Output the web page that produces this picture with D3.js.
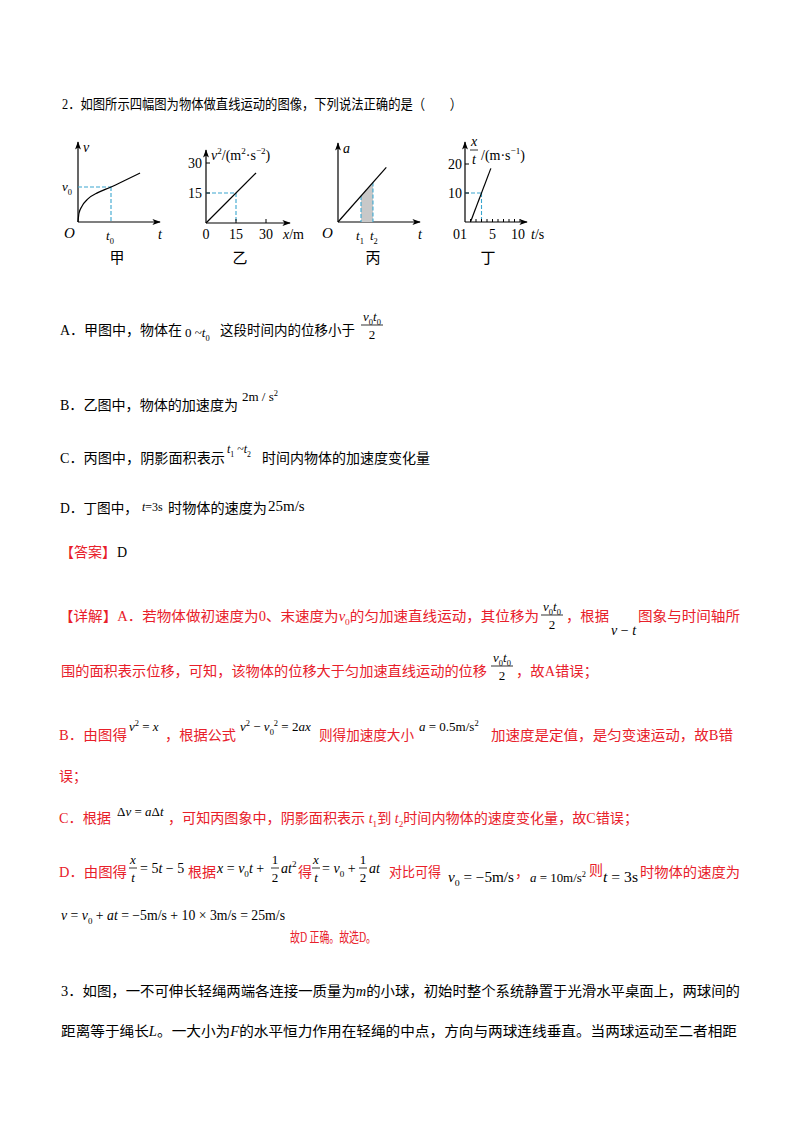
<!DOCTYPE html>
<html><head><meta charset="utf-8">
<script src="https://cdn.jsdelivr.net/npm/d3@7"></script>
<style>body{margin:0;background:#fff}svg{display:block}</style>
</head><body><svg id="s" width="800" height="1132"></svg>
<script>
// ---- data ----
const jiaCurve=[[0,0],[0.03,0.25],[0.12,0.45],[0.3,0.66],[0.6,0.84],[1,1],[1.4,1.18],[1.88,1.4]];
const jiaMark={t:1,v:1};
const yiLine=[[0,0],[25,25]];
const yiXTicks=[0,15,30];const yiYTicks=[15,30];const yiMark={x:15,y:15};
const bingLine=[[0,0],[2.1,2.1]];const bingShade=[1,1.52];
const dingLine=[[1,0],[4.7,18.5]];const dingXTicks=[1,2,3,4,5,6,7,8,9,10];
const dingYTicks=[10,20];const dingMark={t:3,v:10};
const captions=["甲","乙","丙","丁"];

const svg=d3.select("#s");
const FF="'Liberation Serif','Noto Sans CJK SC',serif";
const RED="#e8202a",BLUE="#3aa6cf";

svg.append("defs").html('<marker id="ar" viewBox="0 0 10 10" refX="9" refY="5" markerWidth="7" markerHeight="7" orient="auto-start-reverse"><path d="M0,1.5L10,5L0,8.5L2.5,5z" fill="#000"/></marker>');

function rich(x,y,s,o={}){
  const size=o.size||14;
  const t=svg.append("text").attr("x",x).attr("y",y).attr("font-family",FF)
    .attr("font-size",size).attr("fill",o.fill||"#000");
  if(o.len) t.attr("textLength",o.len).attr("lengthAdjust","spacingAndGlyphs");
  if(o.anchor) t.attr("text-anchor",o.anchor);
  let it=false,i=0,buf="";
  const flush=()=>{if(buf){t.append("tspan").attr("font-size",size).attr("font-style",it?"italic":"normal").text(buf);buf="";}};
  while(i<s.length){
    const c=s[i];
    if(c==="*"){flush();it=!it;i++;continue;}
    if(c==="_"||c==="^"){
      flush();i++;let g;
      if(s[i]==="{"){const j=s.indexOf("}",i);g=s.slice(i+1,j);i=j+1;}else{g=s[i];i++;}
      const d=c==="_"?size*0.3:-size*0.4;
      t.append("tspan").attr("dy",d).attr("font-size",size*0.65).attr("font-style","normal").text(g);
      t.append("tspan").attr("dy",-d).attr("font-size",size).text("\u200b");
      continue;
    }
    buf+=c;i++;
  }
  flush();return t;
}
function frac(x,y,num,den,o={}){ // x centre, y = bar y
  const w=o.w||22;
  rich(x,y-4,num,{anchor:"middle",fill:o.fill,size:o.size||13});
  rich(x,y+14,den,{anchor:"middle",fill:o.fill,size:o.size||13});
  svg.append("line").attr("x1",x-w/2).attr("x2",x+w/2).attr("y1",y).attr("y2",y)
    .attr("stroke",o.fill||"#000").attr("stroke-width",0.8);
}

// ---- charts ----
function axes(ox,oy,xend,ytop){
  svg.append("line").attr("x1",ox).attr("y1",oy).attr("x2",xend).attr("y2",oy).attr("stroke","#000").attr("stroke-width",1.2).attr("marker-end","url(#ar)");
  svg.append("line").attr("x1",ox).attr("y1",oy).attr("x2",ox).attr("y2",ytop).attr("stroke","#000").attr("stroke-width",1.2).attr("marker-end","url(#ar)");
}
function dash(x1,y1,x2,y2){svg.append("line").attr("x1",x1).attr("y1",y1).attr("x2",x2).attr("y2",y2).attr("stroke",BLUE).attr("stroke-width",1.1).attr("stroke-dasharray","4,2");}
const L=d3.line();
// 甲
{const x=d3.scaleLinear([0,1],[78,111]),y=d3.scaleLinear([0,1],[222,187]);
 axes(78,222,160,142);
 dash(x(0),y(jiaMark.v),x(jiaMark.t),y(jiaMark.v));dash(x(jiaMark.t),y(jiaMark.v),x(jiaMark.t),y(0));
 svg.append("path").attr("d",d3.line().x(d=>x(d[0])).y(d=>y(d[1])).curve(d3.curveMonotoneX)(jiaCurve)).attr("fill","none").attr("stroke","#000").attr("stroke-width",1.2);
 rich(83,152,"*v*",{size:14});rich(62,191,"*v*_0",{size:13});rich(64,238,"*O*",{size:15});
 rich(x(1)-5,240,"*t*_0",{size:13});rich(158,239,"*t*",{size:14});}
// 乙
{const x=d3.scaleLinear([0,15],[206,236]),y=d3.scaleLinear([0,15],[223,193]);
 axes(206,223,290,150);
 dash(x(0),y(yiMark.y),x(yiMark.x),y(yiMark.y));dash(x(yiMark.x),y(yiMark.y),x(yiMark.x),y(0));
 svg.append("path").attr("d",L(yiLine.map(d=>[x(d[0]),y(d[1])]))).attr("stroke","#000").attr("stroke-width",1.2);
 yiXTicks.forEach(v=>{if(v)svg.append("line").attr("x1",x(v)).attr("x2",x(v)).attr("y1",y(0)).attr("y2",y(0)-4).attr("stroke","#000");
   rich(x(v),239,String(v),{anchor:"middle",size:14});});
 yiYTicks.forEach(v=>{svg.append("line").attr("x1",x(0)).attr("x2",x(0)+4).attr("y1",y(v)).attr("y2",y(v)).attr("stroke","#000");
   rich(x(0)-4,y(v)+5,String(v),{anchor:"end",size:14});});
 rich(211,160,"*v*^2/(m^2·s^{−2})",{size:14});rich(283,239,"*x*/m",{size:14});}
// 丙
{const x=d3.scaleLinear([0,1],[338,361]),y=d3.scaleLinear([0,1],[222,196]);
 axes(338,222,420,143);
 const [a,b]=bingShade;
 svg.append("path").attr("d",L([[x(a),y(0)],[x(a),y(a)],[x(b),y(b)],[x(b),y(0)]])+"Z").attr("fill","#c8c8c8");
 dash(x(a),y(a),x(a),y(0));dash(x(b),y(b),x(b),y(0));
 svg.append("path").attr("d",L(bingLine.map(d=>[x(d[0]),y(d[1])]))).attr("stroke","#000").attr("stroke-width",1.2);
 rich(343,153,"*a*",{size:14});rich(322,238,"*O*",{size:15});
 rich(x(a)-5,240,"*t*_1",{size:13});rich(x(b)-3,240,"*t*_2",{size:13});rich(418,239,"*t*",{size:14});}
// 丁
{const x=d3.scaleLinear([0,10],[465,520]),y=d3.scaleLinear([0,10],[222,193]);
 axes(465,222,527,142);
 dash(x(0),y(dingMark.v),x(dingMark.t),y(dingMark.v));dash(x(dingMark.t),y(dingMark.v),x(dingMark.t),y(0));
 svg.append("path").attr("d",L(dingLine.map(d=>[x(d[0]),y(d[1])]))).attr("stroke","#000").attr("stroke-width",1.2);
 dingXTicks.forEach(v=>svg.append("line").attr("x1",x(v)).attr("x2",x(v)).attr("y1",y(0)).attr("y2",y(0)-3).attr("stroke","#000"));
 dingYTicks.forEach(v=>{svg.append("line").attr("x1",x(0)).attr("x2",x(0)+4).attr("y1",y(v)).attr("y2",y(v)).attr("stroke","#000");
   rich(x(0)-3,y(v)+5,String(v),{anchor:"end",size:14});});
 rich(453,239,"01",{size:14});rich(x(5),239,"5",{anchor:"middle",size:14});rich(x(10)-2,239,"10",{anchor:"middle",size:14});
 rich(531,239,"*t*/s",{size:14});
 frac(474,150,"*x*","*t*",{w:8,size:14});rich(481,160,"/(m·s^{−1})",{size:14});}
[117,240,373,488].forEach((cx,i)=>rich(cx,263,captions[i],{anchor:"middle",size:15}));

// ---- text ----
rich(62,109,"2．如图所示四幅图为物体做直线运动的图像，下列说法正确的是（　　）",{len:400});
rich(60,335,"A．甲图中，物体在",{len:122});rich(185,337,"0 ~*t*_0",{size:13});
rich(220,335,"这段时间内的位移小于",{len:135});frac(372,325,"*v*_0*t*_0","2",{w:22});
rich(60,410,"B．乙图中，物体的加速度为",{len:178});rich(242,401,"2m / s^2",{size:13});
rich(60,463,"C．丙图中，阴影面积表示",{len:165});rich(227,453,"*t*_1 ~*t*_2",{size:12});
rich(262,463,"时间内物体的加速度变化量",{len:168});
rich(60,513,"D．丁图中，",{len:78});rich(142,511,"*t*=3s",{size:12});
rich(168,513,"时物体的速度为",{len:99});rich(268,511,"25m/s",{size:15});
rich(60,557,"【答案】",{fill:RED,len:56});rich(117,557,"D",{});

rich(59,621,"【详解】A．若物体做初速度为0、末速度为*v*_0的匀加速直线运动，其位移为",{fill:RED,len:480});
frac(552,615,"*v*_0*t*_0","2",{w:22});rich(566,621,"，根据",{fill:RED,len:43});
rich(611,635,"*v* − *t*",{size:14});rich(638,621,"图象与时间轴所",{fill:RED,len:102});
rich(61,676,"围的面积表示位移，可知，该物体的位移大于匀加速直线运动的位移",{fill:RED,len:426});
frac(502,666,"*v*_0*t*_0","2",{w:22});rich(516,676,"，故A错误；",{fill:RED,len:82});
rich(59,740,"B．由图得",{fill:RED,len:68});rich(129,731,"*v*^2 = *x*",{size:13});
rich(165,740,"，根据公式",{fill:RED,len:71});rich(240,731,"*v*^2 − *v*_0^2 = 2*ax*",{size:13});
rich(319,740,"则得加速度大小",{fill:RED,len:95});rich(419,731,"*a* = 0.5m/s^2",{size:13});
rich(491,740,"加速度是定值，是匀变速运动，故B错",{fill:RED,len:242});
rich(59,781,"误；",{fill:RED,len:28});
rich(59,823,"C．根据",{fill:RED,len:52});rich(117,816,"Δ*v* = *a*Δ*t*",{size:13});
rich(168,823,"，可知丙图象中，阴影面积表示 *t*_1到 *t*_2时间内物体的速度变化量，故C错误；",{fill:RED,len:470});
rich(59,877,"D．由图得",{fill:RED,len:68});frac(133,868,"*x*","*t*",{w:8});
rich(140,873,"= 5*t* − 5",{size:14});rich(188,877,"根据",{fill:RED,len:28});
rich(217,873,"*x* = *v*_0*t* + ",{size:14});frac(275,868,"1","2",{w:8});rich(281,873,"*at*^2",{size:14});
rich(298,877,"得",{fill:RED});frac(316,868,"*x*","*t*",{w:8});rich(322,873,"= *v*_0 + ",{size:14});
frac(363,868,"1","2",{w:8});rich(369,873,"*at*",{size:14});rich(389,877,"对比可得",{fill:RED,len:52});
rich(448,882,"*v*_0 = −5m/s",{size:14,len:66});rich(515,877,"，",{fill:RED});
rich(530,882,"*a* = 10m/s^2",{size:13,len:56});rich(589,875,"则",{fill:RED});rich(603,882,"*t* = 3s",{size:14,len:35});
rich(640,877,"时物体的速度为",{fill:RED,len:100});
rich(61,920,"*v* = *v*_0 + *at* = −5m/s + 10 × 3m/s = 25m/s",{size:14,len:224});
rich(290,942,"故D 正确。故选D。",{fill:RED,len:86});

rich(61,996,"3．如图，一不可伸长轻绳两端各连接一质量为*m*的小球，初始时整个系统静置于光滑水平桌面上，两球间的",{len:679});
rich(61,1036,"距离等于绳长*L*。一大小为*F*的水平恒力作用在轻绳的中点，方向与两球连线垂直。当两球运动至二者相距",{len:676});
</script></body></html>
